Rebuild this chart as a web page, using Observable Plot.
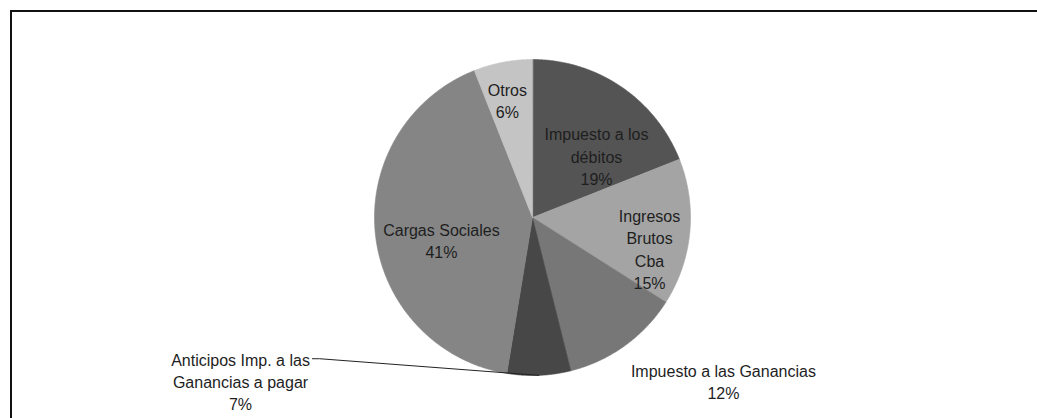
<!DOCTYPE html>
<html>
<head>
<meta charset="utf-8">
<script src="https://cdn.jsdelivr.net/npm/d3@7"></script>
<script src="https://cdn.jsdelivr.net/npm/@observablehq/plot@0.6"></script>
<style>
  html, body { margin: 0; padding: 0; background: #fff; overflow: hidden; }
  #wrap { position: relative; width: 1037px; height: 418px; }
  #frame { position: absolute; left: 10px; top: 10px; width: 1200px; height: 600px;
           border-left: 2px solid #111; border-top: 2px solid #111; box-sizing: border-box; }
  #chart { position: absolute; left: 0; top: 0; }
</style>
</head>
<body>
<div id="wrap"><div id="frame"></div><div id="chart"></div></div>
<script>
// ---- data (clockwise from 12 o'clock) ----
const categories = [
  "Impuesto a los\ndébitos",
  "Ingresos\nBrutos\nCba",
  "Impuesto a las Ganancias",
  "Anticipos Imp. a las\nGanancias a pagar",
  "Cargas Sociales",
  "Otros"
];
const shares = [19, 15, 12.1, 6.5, 41.4, 6];
const sliceColors = ["#545454", "#a4a4a4", "#777777", "#474747", "#858585", "#c4c4c4"];

// ---- label layout: [angle in degrees clockwise from top, distance as fraction of radius] ----
const labelLayout = [[45.9, 0.564], [104.8, 0.766], [130.5, 1.589], [240.8, 2.117], [256.4, 0.593], [348.0, 0.763]];

const total = d3.sum(shares);
const rad = Math.PI / 180;
let acc = 0;
const slices = shares.map((v, i) => {
  const a0 = acc / total * 360;
  acc += v;
  const a1 = acc / total * 360;
  return {name: categories[i], value: v, a0, a1, color: sliceColors[i]};
});
const polar = (deg, r) => ({x: r * Math.sin(deg * rad), y: r * Math.cos(deg * rad)});

// slice outlines: centre -> arc -> centre
const slicePts = [];
for (const s of slices) {
  slicePts.push({name: s.name, color: s.color, ...polar(s.a0, 0)});
  const n = Math.max(2, Math.ceil((s.a1 - s.a0) / 0.5));
  for (let k = 0; k <= n; k++) {
    const a = s.a0 + (s.a1 - s.a0) * k / n;
    slicePts.push({name: s.name, color: s.color, ...polar(a, 1)});
  }
}

const labels = slices.map((s, i) => {
  const p = polar(labelLayout[i][0], labelLayout[i][1]);
  return {...p, text: s.name + "\n" + Math.round(s.value / total * 100) + "%"};
});

// leader line for the small outside label (Anticipos)
const li = 3;
const rim = polar((slices[li].a0 + slices[li].a1) / 2, 1);
const lab = labels[li];
const leader = [
  {x: lab.x + 0.455, y: lab.y + 0.139},
  {x: lab.x + 0.50, y: lab.y + 0.139},
  {x: rim.x, y: rim.y}
];

const chart = Plot.plot({
  width: 1037,
  height: 418,
  margin: 0,
  x: {domain: [-1, 1], range: [374, 690], axis: null},
  y: {domain: [-1, 1], range: [375, 59], axis: null},
  color: {type: "identity"},
  style: {background: "transparent"},
  marks: [
    Plot.line(slicePts, {x: "x", y: "y", z: "name", fill: "color", stroke: "color", strokeWidth: 0.6, curve: "linear-closed"}),
    Plot.line(leader, {x: "x", y: "y", stroke: "#222", strokeWidth: 1}),
    Plot.text(labels, {x: "x", y: "y", text: "text", fill: "#1e1e1e", fontSize: 16, lineHeight: 1.38,
      fontFamily: "Liberation Sans, Arial, sans-serif", textAnchor: "middle", lineAnchor: "middle"})
  ]
});
document.getElementById("chart").appendChild(chart);
</script>
</body>
</html>
